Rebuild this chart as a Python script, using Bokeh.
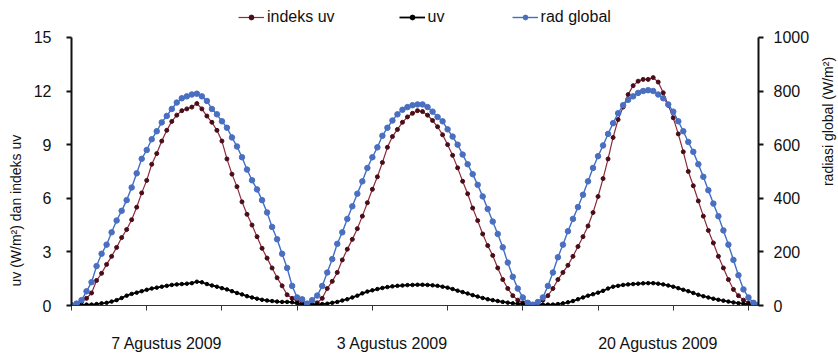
import math
from bokeh.plotting import figure
from bokeh.layouts import row
from bokeh.models import (Range1d, LinearAxis, FixedTicker, Legend, LegendItem, Title, Label)
from bokeh.embed import file_html
from bokeh.resources import INLINE

# ---- data ----
day_labels = ["7 Agustus 2009", "3 Agustus 2009", "20 Agustus 2009"]
day_label_pos = [19, 64, 117]
x_ticks = [0, 15, 30, 45, 60, 75, 90, 105, 120, 135]
left_ticks = [0, 3, 6, 9, 12, 15]
right_ticks = [0, 200, 400, 600, 800, 1000]

indeks_uv_d1 = [0.05, 0.1, 0.2, 0.4, 0.7, 1.4, 1.8, 2.3, 2.75, 3.25, 3.8, 4.25, 4.8, 5.5, 6.3, 7.0,
                7.9, 8.5, 9.2, 9.8, 10.3, 10.65, 10.9, 11.0, 11.1, 11.3, 11.0, 10.6, 10.25, 9.8, 9.2,
                8.2, 7.35, 6.65, 5.8, 5.1, 4.5, 3.85, 3.2, 2.65, 2.1, 1.55, 1.1, 0.6, 0.4, 0.25]
indeks_uv_d2 = [0.15, 0.05, 0.05, 0.15, 0.4, 0.95, 1.35, 1.85, 2.55, 3.15, 3.7, 4.3, 5.0, 5.75, 6.5,
                7.2, 8.0, 8.85, 9.45, 9.85, 10.25, 10.55, 10.75, 10.9, 10.85, 10.65, 10.35, 10.0, 9.55,
                9.0, 8.4, 7.7, 6.95, 6.25, 5.45, 4.75, 4.0, 3.35, 2.8, 2.1, 1.45, 0.95, 0.55, 0.3, 0.15, 0.05]
indeks_uv_d3 = [0.05, 0.1, 0.3, 0.55, 0.95, 1.45, 1.85, 2.25, 2.75, 3.3, 3.85, 4.45, 5.2, 6.1, 7.1,
                8.2, 9.4, 10.4, 11.1, 11.8, 12.3, 12.55, 12.65, 12.65, 12.75, 12.5, 11.9, 11.2, 10.5,
                9.6, 8.6, 7.5, 6.7, 5.85, 5.0, 4.2, 3.5, 2.75, 2.1, 1.45, 0.9, 0.55, 0.3, 0.15, 0.05, 0.0]

uv_d1 = [0.0, 0.02, 0.03, 0.05, 0.05, 0.08, 0.12, 0.15, 0.22, 0.3, 0.42, 0.55, 0.65, 0.72, 0.8, 0.88,
         0.95, 1.0, 1.05, 1.1, 1.15, 1.18, 1.2, 1.22, 1.25, 1.33, 1.3, 1.2, 1.12, 1.05, 0.97, 0.9, 0.8,
         0.7, 0.62, 0.52, 0.45, 0.38, 0.32, 0.28, 0.25, 0.22, 0.2, 0.2, 0.18, 0.12]
uv_d2 = [0.05, 0.03, 0.05, 0.05, 0.08, 0.1, 0.15, 0.2, 0.28, 0.35, 0.45, 0.55, 0.68, 0.78, 0.85, 0.92,
         0.98, 1.03, 1.07, 1.1, 1.12, 1.14, 1.15, 1.16, 1.16, 1.15, 1.13, 1.1, 1.05, 1.0, 0.92, 0.83,
         0.75, 0.67, 0.58, 0.5, 0.42, 0.35, 0.3, 0.25, 0.2, 0.16, 0.12, 0.1, 0.08, 0.05]
uv_d3 = [0.03, 0.03, 0.05, 0.05, 0.05, 0.08, 0.12, 0.18, 0.25, 0.35, 0.45, 0.55, 0.63, 0.72, 0.82,
         0.95, 1.05, 1.1, 1.15, 1.18, 1.2, 1.22, 1.24, 1.25, 1.25, 1.22, 1.18, 1.12, 1.05, 0.97, 0.88,
         0.8, 0.7, 0.6, 0.52, 0.45, 0.38, 0.32, 0.27, 0.22, 0.17, 0.13, 0.1, 0.07, 0.05, 0.03]

rad_global_d1 = [0, 7, 20, 53, 87, 147, 193, 227, 273, 317, 353, 393, 440, 493, 547, 580, 620, 650,
                 683, 707, 733, 757, 773, 780, 787, 790, 780, 763, 733, 713, 687, 663, 627, 593, 553,
                 507, 467, 433, 393, 347, 293, 247, 193, 140, 73, 30]
rad_global_d2 = [23, 7, 20, 37, 73, 123, 173, 230, 273, 323, 370, 417, 463, 513, 553, 590, 633, 663,
                 690, 713, 730, 740, 747, 750, 750, 740, 723, 703, 687, 657, 630, 600, 563, 527, 490,
                 450, 407, 360, 313, 267, 217, 160, 107, 63, 30, 10]
rad_global_d3 = [3, 13, 30, 73, 123, 180, 227, 277, 323, 367, 413, 463, 513, 557, 597, 640, 680, 717,
                 747, 767, 780, 793, 800, 803, 800, 787, 773, 750, 723, 687, 650, 610, 573, 527, 480,
                 430, 380, 333, 280, 227, 170, 113, 60, 30, 10, 3]

indeks_uv = indeks_uv_d1 + indeks_uv_d2 + indeks_uv_d3
uv = uv_d1 + uv_d2 + uv_d3
rad_global = rad_global_d1 + rad_global_d2 + rad_global_d3

FONT = "Liberation Sans"
FS = "16px"
FS_TITLE = "14px"
INK = "#111111"

# frame reaches above the 15 / 1000 tick so that the legend can sit inside it
FRAME_H = 302
Y_TOP = 15 * FRAME_H / 269.0
RAD_TOP = 1000 * FRAME_H / 269.0
FIG_H = 354

p = figure(width=812, height=FIG_H, output_backend="svg", toolbar_location=None,
           x_range=Range1d(0, 137), y_range=Range1d(0, Y_TOP),
           min_border_left=70, min_border_right=54, min_border_top=4, min_border_bottom=48)
p.extra_y_ranges = {"rad": Range1d(0, RAD_TOP)}
p.xgrid.visible = False
p.ygrid.visible = False
p.outline_line_color = None
p.background_fill_color = "white"

# series
xi = list(range(len(indeks_uv)))
xu = list(range(len(uv)))
xr = list(range(len(rad_global)))

r1l = p.line(xi, indeks_uv, line_color="#8c2a3c", line_width=1.2)
r1s = p.scatter(xi, indeks_uv, size=4, fill_color="#4a0d18", line_color="#4a0d18")
r2l = p.line(xu, uv, line_color="black", line_width=1.8)
r2s = p.scatter(xu, uv, size=3.5, fill_color="black", line_color="black")
r3l = p.line(xr, rad_global, line_color="#3f6fc8", line_width=1.4, y_range_name="rad")
r3s = p.scatter(xr, rad_global, size=5.5, fill_color="#4a6fc0", line_color="#4a6fc0",
                y_range_name="rad")

# x axis
xa = p.xaxis[0]
xa.ticker = FixedTicker(ticks=day_label_pos, minor_ticks=x_ticks)
xa.major_label_overrides = {pos: lab for pos, lab in zip(day_label_pos, day_labels)}
xa.major_tick_out = 0
xa.major_tick_in = 0
xa.minor_tick_out = 5
xa.minor_tick_in = 0
xa.minor_tick_line_color = "#333333"
xa.axis_line_color = "#333333"
xa.axis_line_width = 1
xa.major_label_standoff = 24
xa.major_label_text_font = FONT
xa.major_label_text_font_size = FS
xa.major_label_text_color = INK

# left axis
ya = p.yaxis[0]
ya.ticker = FixedTicker(ticks=left_ticks)
ya.bounds = (0, 15)
ya.major_tick_out = 5
ya.major_tick_in = 0
ya.minor_tick_out = 0
ya.minor_tick_in = 0
ya.axis_line_width = 2
ya.axis_line_color = INK
ya.major_tick_line_width = 2
ya.major_tick_line_color = INK
ya.major_label_standoff = 15
ya.major_label_text_font = FONT
ya.major_label_text_font_size = FS
ya.major_label_text_color = INK

left_title = Title(text="uv (W/m²) dan indeks uv", align="left", offset=19,
                   vertical_align="middle", standoff=12,
                   text_font=FONT, text_font_size=FS_TITLE, text_font_style="normal",
                   text_color=INK)
p.add_layout(left_title, "left")

# right axis
ra = LinearAxis(y_range_name="rad", ticker=FixedTicker(ticks=right_ticks), bounds=(0, 1000))
ra.major_tick_out = 5
ra.major_tick_in = 0
ra.minor_tick_out = 0
ra.minor_tick_in = 0
ra.axis_line_width = 2
ra.axis_line_color = INK
ra.major_tick_line_width = 2
ra.major_tick_line_color = INK
ra.major_label_standoff = 10
ra.major_label_text_font = FONT
ra.major_label_text_font_size = FS
ra.major_label_text_color = INK
p.add_layout(ra, "right")

legend = Legend(items=[LegendItem(label="indeks uv", renderers=[r1l, r1s]),
                       LegendItem(label="uv", renderers=[r2l, r2s]),
                       LegendItem(label="rad global", renderers=[r3l, r3s])],
                orientation="horizontal", location=(167, 278), spacing=64,
                glyph_width=26, glyph_height=12, label_height=20, label_standoff=3,
                padding=0, margin=0,
                border_line_color=None, background_fill_alpha=0,
                label_text_font=FONT, label_text_font_size=FS, label_text_color=INK)
p.add_layout(legend)

# narrow strip on the right carrying the secondary axis title (reads bottom-to-top)
side = figure(width=26, height=FIG_H, output_backend="svg", toolbar_location=None,
              x_range=Range1d(0, 1), y_range=Range1d(0, 1),
              x_axis_location=None, y_axis_location=None, min_border=0)
side.xgrid.visible = False
side.ygrid.visible = False
side.outline_line_color = None
side.add_layout(Label(x=15, y=FIG_H - 170, x_units="screen", y_units="screen",
                      text="radiasi global (W/m²)", angle=math.pi / 2, angle_units="rad",
                      text_align="center", text_baseline="middle",
                      text_font=FONT, text_font_size=FS_TITLE, text_color=INK))

layout = row(p, side, spacing=0)
open("out.html", "w").write(file_html(layout, INLINE))
